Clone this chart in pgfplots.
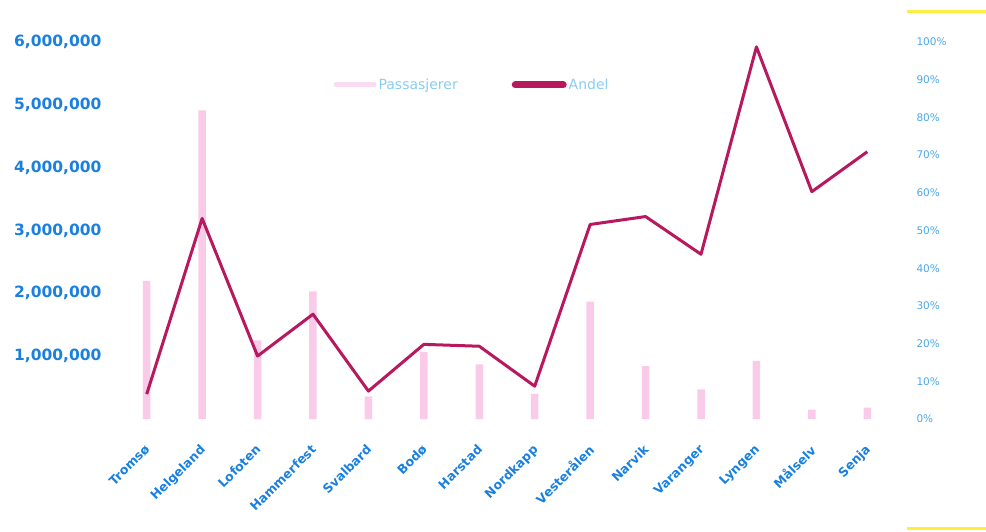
\documentclass[border=0pt]{standalone}
\usepackage{pgfplots}
\pgfplotsset{compat=1.18}
\usepackage{fontspec}
\setmainfont{DejaVu Sans}
\definecolor{barpink}{HTML}{F9CBE8}
\definecolor{linecol}{HTML}{B8185E}
\definecolor{tickblue}{HTML}{1A80E0}
\definecolor{rblue}{HTML}{4AA8E8}
\definecolor{legblue}{HTML}{8ACCF0}
\definecolor{yel}{HTML}{FFEE40}
\begin{document}
\begin{tikzpicture}
\useasboundingbox (-119pt,-112pt) rectangle (867pt,419pt);
\begin{axis}[
  scale only axis, width=776pt, height=377pt,
  xmin=-0.5, xmax=13.5, ymin=0, ymax=6000000,
  axis y line*=left, axis x line*=bottom,
  axis line style={draw=none},
  major tick length=0pt,
  scaled y ticks=false,
  xtick={0,...,13},
  xticklabels={Tromsø,Helgeland,Lofoten,Hammerfest,Svalbard,Bodø,Harstad,Nordkapp,Vesterålen,Narvik,Varanger,Lyngen,Målselv,Senja},
  x tick label style={rotate=45, anchor=north east, font=\fontsize{12.5}{12.5}\selectfont\bfseries, text=tickblue, yshift=-12pt, xshift=-16pt},
  ytick={1000000,2000000,3000000,4000000,5000000,6000000},
  yticklabels={{1,000,000},{2,000,000},{3,000,000},{4,000,000},{5,000,000},{6,000,000}},
  y tick label style={font=\fontsize{15.5}{15.5}\selectfont\bfseries, text=tickblue, xshift=-14pt},
]
\addplot[ybar, bar width=7.5pt, fill=barpink, draw=none] coordinates {
(0,2200000) (1,4910000) (2,1250000) (3,2030000) (4,360000) (5,1070000) (6,870000)
(7,400000) (8,1870000) (9,840000) (10,470000) (11,920000) (12,150000) (13,180000)};
\end{axis}
\begin{axis}[
  scale only axis, width=776pt, height=377pt,
  xmin=-0.5, xmax=13.5, ymin=0, ymax=100,
  axis y line*=right, axis x line=none,
  axis line style={draw=none},
  major tick length=0pt,
  xtick=\empty,
  ytick={0,10,...,100},
  yticklabels={0\%,10\%,20\%,30\%,40\%,50\%,60\%,70\%,80\%,90\%,100\%},
  y tick label style={font=\fontsize{10.5}{10.5}\selectfont, text=rblue, xshift=18pt},
  legend columns=2,
  legend style={at={(0.455,0.886)}, anchor=center, draw=none, fill=none,
    font=\fontsize{14}{14}\selectfont, text=legblue,
    /tikz/every even column/.append style={column sep=52pt}},
]
\addlegendimage{legend image code/.code={\draw[line width=5pt, barpink!70, line cap=round] (0pt,0pt) -- (38pt,0pt);}}
\addlegendentry{Passasjerer}
\addplot[linecol, line width=3pt, line join=round,
  legend image code/.code={\draw[line width=7pt, linecol, line cap=round] (0pt,0pt) -- (48pt,0pt);}]
coordinates {
(0,6.6) (1,53.2) (2,16.7) (3,27.8) (4,7.4) (5,19.8) (6,19.3)
(7,8.7) (8,51.6) (9,53.7) (10,43.7) (11,98.7) (12,60.3) (13,70.9)};
\addlegendentry{Andel}
\end{axis}
\draw[yel, line width=3pt] (788pt,407pt) -- (867pt,407pt);
\draw[yel, line width=3pt] (788pt,-109pt) -- (867pt,-109pt);
\end{tikzpicture}
\end{document}
